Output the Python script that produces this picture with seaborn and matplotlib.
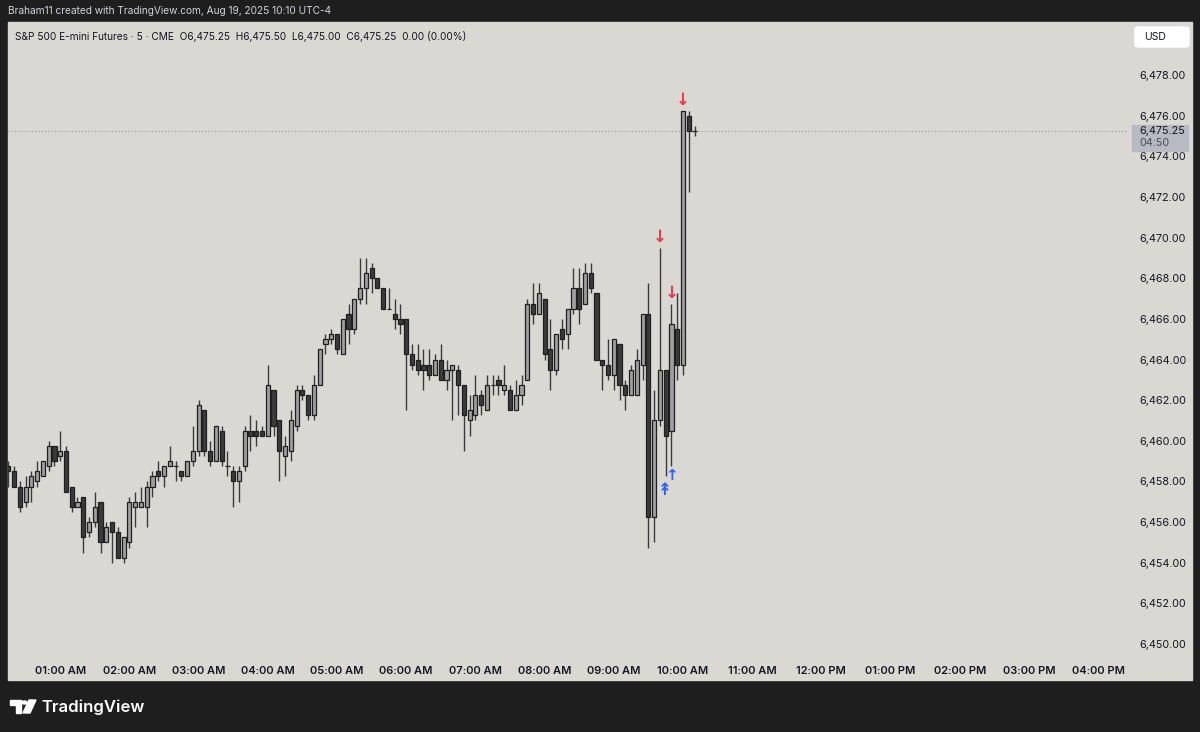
import numpy as np
import pandas as pd
import matplotlib
matplotlib.use("Agg")
import matplotlib.pyplot as plt
import seaborn as sns
from matplotlib.patches import Rectangle, FancyBboxPatch, Polygon, Circle

# ES 5-minute candles, Aug 19 2025, first candle 00:15, last 10:10
opens = [6458.75, 6458.5, 6457.75, 6457.0, 6457.75, 6458.0, 6458.25, 6458.75, 6459.75, 6459.25,
         6459.5, 6457.75, 6456.75, 6457.25, 6455.5, 6456.0, 6457.0, 6455.0, 6456.0, 6455.5,
         6454.25, 6455.0, 6456.75, 6456.75, 6456.75, 6457.75, 6458.5, 6458.25, 6458.75, 6458.75,
         6458.5, 6458.25, 6459.0, 6459.5, 6461.5, 6459.5, 6459.0, 6460.5, 6458.75, 6458.5,
         6458.0, 6458.75, 6460.5, 6460.5, 6460.5, 6460.25, 6462.5, 6461.0, 6459.25, 6459.5,
         6460.75, 6462.5, 6462.25, 6461.25, 6462.75, 6464.75, 6465.0, 6465.25, 6464.25, 6466.25,
         6465.5, 6467.0, 6467.5, 6468.5, 6468.0, 6467.5, 6466.5, 6466.25, 6466.0, 6466.0,
         6464.25, 6464.0, 6463.75, 6463.75, 6463.25, 6464.0, 6463.0, 6463.5, 6463.5, 6462.75,
         6461.0, 6461.25, 6462.25, 6461.5, 6462.75, 6463.0, 6462.5, 6462.5, 6461.5, 6462.25,
         6463.0, 6466.75, 6466.25, 6467.0, 6464.5, 6463.5, 6465.5, 6465.25, 6466.5, 6467.5,
         6466.75, 6468.25, 6467.25, 6464.0, 6463.75, 6463.25, 6464.75, 6462.75, 6462.25, 6462.25,
         6463.75, 6466.25, 6456.25, 6461.0, 6463.5, 6460.5, 6465.5, 6463.75, 6476.0, 6475.25]
highs = [6459.0, 6458.75, 6458.0, 6458.25, 6458.5, 6459.0, 6459.0, 6460.0, 6459.75, 6460.5,
         6459.75, 6457.75, 6457.25, 6457.25, 6456.25, 6457.5, 6457.0, 6456.0, 6456.0, 6455.75,
         6455.25, 6457.25, 6457.5, 6457.75, 6458.0, 6458.5, 6459.0, 6458.75, 6459.75, 6459.0,
         6458.5, 6459.0, 6460.75, 6462.0, 6461.5, 6460.0, 6460.75, 6460.75, 6459.5, 6458.75,
         6458.75, 6460.75, 6461.25, 6461.0, 6460.75, 6463.75, 6462.5, 6461.0, 6460.25, 6461.5,
         6462.75, 6462.75, 6462.25, 6463.25, 6464.5, 6465.25, 6465.5, 6465.25, 6466.0, 6466.75,
         6467.0, 6469.0, 6469.0, 6468.75, 6468.0, 6467.5, 6467.5, 6467.0, 6466.75, 6466.0,
         6464.75, 6464.75, 6464.5, 6464.5, 6464.25, 6464.75, 6464.0, 6463.75, 6463.75, 6462.75,
         6462.25, 6463.25, 6462.5, 6463.25, 6463.25, 6463.25, 6463.75, 6462.75, 6463.0, 6463.25,
         6467.0, 6467.75, 6467.75, 6467.0, 6466.0, 6465.25, 6466.0, 6466.5, 6468.5, 6468.5,
         6468.75, 6468.75, 6467.25, 6464.0, 6465.0, 6465.0, 6464.75, 6463.0, 6463.75, 6464.5,
         6466.25, 6467.75, 6462.5, 6469.5, 6463.5, 6466.75, 6467.25, 6476.25, 6476.25, 6475.5]
lows = [6457.75, 6457.75, 6456.5, 6456.75, 6457.0, 6457.75, 6458.25, 6458.5, 6458.75, 6459.0,
        6457.5, 6456.5, 6456.75, 6454.5, 6455.25, 6455.75, 6454.5, 6455.0, 6454.0, 6454.25,
        6454.0, 6454.75, 6455.75, 6456.75, 6455.75, 6457.25, 6458.0, 6457.75, 6458.75, 6458.0,
        6458.0, 6458.25, 6458.75, 6459.25, 6459.25, 6458.75, 6459.0, 6458.75, 6458.25, 6456.75,
        6457.0, 6458.5, 6459.5, 6459.75, 6460.25, 6460.25, 6460.25, 6458.0, 6458.25, 6459.0,
        6460.5, 6462.0, 6461.0, 6461.0, 6462.75, 6464.25, 6464.75, 6464.25, 6464.25, 6464.75,
        6465.25, 6466.75, 6466.75, 6467.25, 6467.5, 6466.5, 6466.5, 6465.5, 6465.25, 6461.5,
        6463.5, 6463.25, 6462.5, 6463.0, 6463.25, 6463.0, 6462.5, 6461.0, 6461.25, 6459.5,
        6460.25, 6461.0, 6461.25, 6461.5, 6462.25, 6462.25, 6462.25, 6461.5, 6461.5, 6461.75,
        6463.0, 6465.75, 6466.25, 6464.0, 6462.5, 6463.25, 6464.5, 6464.5, 6466.25, 6465.75,
        6466.75, 6467.25, 6464.0, 6462.5, 6463.0, 6462.5, 6462.0, 6461.5, 6462.25, 6462.25,
        6463.0, 6454.75, 6455.0, 6460.75, 6458.25, 6458.75, 6463.0, 6463.25, 6472.25, 6475.0]
closes = [6458.5, 6457.75, 6456.75, 6457.75, 6458.25, 6458.5, 6459.0, 6459.75, 6459.0, 6459.5,
          6457.5, 6456.75, 6457.0, 6455.25, 6456.0, 6456.75, 6455.0, 6455.75, 6455.5, 6454.25,
          6455.25, 6457.0, 6457.0, 6457.0, 6457.75, 6458.25, 6458.25, 6458.75, 6459.0, 6458.75,
          6458.25, 6459.0, 6459.5, 6461.75, 6459.5, 6459.0, 6460.75, 6459.0, 6458.75, 6458.0,
          6458.5, 6460.5, 6460.25, 6460.25, 6460.25, 6462.75, 6460.75, 6459.5, 6459.75, 6461.0,
          6462.5, 6462.25, 6461.25, 6462.75, 6464.5, 6465.0, 6465.25, 6464.5, 6466.0, 6465.5,
          6467.0, 6467.5, 6468.25, 6468.0, 6467.5, 6466.5, 6466.5, 6466.0, 6465.75, 6464.25,
          6463.75, 6463.5, 6463.5, 6463.25, 6464.0, 6463.0, 6463.5, 6463.75, 6462.75, 6461.25,
          6461.5, 6462.25, 6461.75, 6462.75, 6462.75, 6462.75, 6462.75, 6461.5, 6462.25, 6462.75,
          6466.75, 6466.25, 6467.25, 6464.25, 6463.5, 6465.25, 6465.0, 6466.5, 6467.5, 6466.5,
          6468.25, 6467.5, 6464.0, 6463.75, 6463.25, 6465.0, 6462.75, 6462.25, 6463.5, 6464.0,
          6466.25, 6456.25, 6461.0, 6463.5, 6460.25, 6465.75, 6463.75, 6476.25, 6475.25, 6475.25]

# signal markers (candle index)
sell_signals = [113, 115, 117]
buy_signals = [115]
strong_buy_signals = [114]

price_ticks = list(range(6450, 6479, 2))
hour_ticks = list(range(1, 17))
hour_labels = ["01:00 AM", "02:00 AM", "03:00 AM", "04:00 AM", "05:00 AM", "06:00 AM",
               "07:00 AM", "08:00 AM", "09:00 AM", "10:00 AM", "11:00 AM", "12:00 PM",
               "01:00 PM", "02:00 PM", "03:00 PM", "04:00 PM"]
last_price = 6475.25
countdown = "04:50"

DARK = "#1e1e1e"
PANEL = "#dad8d3"
UP = "#a0a0a0"
DOWN = "#3b3b3b"
EDGE = "#1f1f1f"
WICK = "#3a3a3a"
RED = "#f23645"
BLUE = "#2962ff"
TXT = "#131722"

sns.set_theme(style="white")
plt.rcParams["font.family"] = ["Inter", "DejaVu Sans"]

df = pd.DataFrame({"open": opens, "high": highs, "low": lows, "close": closes})
stamps = pd.date_range("2025-08-19 00:15", periods=len(df), freq="5min")
df["t"] = (stamps - pd.Timestamp("2025-08-19")).total_seconds() / 60
df["up"] = df["close"] >= df["open"]

W, H = 1200, 732
fig = plt.figure(figsize=(12, 7.32), dpi=100, facecolor=DARK)


def fx(px):
    return px / W


def fy(py):
    return 1 - py / H


# light chart panel (behind the axes)
fig.patches.append(Rectangle((fx(8), fy(680)), fx(1192) - fx(8), fy(22) - fy(680),
                             transform=fig.transFigure, color=PANEL, zorder=-5))

ax = fig.add_axes([fx(8), fy(655), fx(1128) - fx(8), fy(22) - fy(655)])
ax.set_facecolor(PANEL)
for s in ax.spines.values():
    s.set_visible(False)

ax.vlines(df["t"], df["low"], df["high"], color=WICK, lw=1.0, zorder=2)
ax.bar(df["t"], (df["close"] - df["open"]).abs(), bottom=df[["open", "close"]].min(axis=1),
       width=3.6, color=np.where(df["up"], UP, DOWN), edgecolor=EDGE, linewidth=0.9, zorder=3)

ax.axhline(last_price, color="#8f9299", lw=0.8, ls=(0, (1, 2)), zorder=1)

for i in sell_signals:
    ax.annotate("↓", xy=(df["t"][i], df["high"][i]), xytext=(0, 1), textcoords="offset points",
                ha="center", va="bottom", color=RED, fontsize=12, fontweight="bold",
                family="DejaVu Sans")
for i in buy_signals:
    ax.annotate("↑", xy=(df["t"][i], df["low"][i]), xytext=(0, -1), textcoords="offset points",
                ha="center", va="top", color=BLUE, fontsize=11, fontweight="bold",
                family="DejaVu Sans")
for i in strong_buy_signals:
    ax.annotate("↟", xy=(df["t"][i], df["low"][i]), xytext=(-1, -3.5), textcoords="offset points",
                ha="center", va="top", color=BLUE, fontsize=12, fontweight="bold",
                family="DejaVu Sans")

ax.set_xlim(14.74, 985.84)
ax.set_ylim(6449.46, 6480.61)

ax.yaxis.tick_right()
ax.set_yticks(price_ticks)
ax.set_yticklabels([f"{v:,.2f}" for v in price_ticks], fontsize=7.8, color=TXT)
ax.set_xticks([h * 60 for h in hour_ticks])
ax.set_xticklabels(hour_labels, fontsize=8, color=TXT, fontweight="semibold")
ax.tick_params(axis="y", length=0, pad=8)
ax.tick_params(axis="x", length=0, pad=8)
ax.grid(False)

# top credit line and legend
fig.text(fx(8), fy(11), "Braham11 created with TradingView.com, Aug 19, 2025 10:10 UTC-4",
         color="#d1d4dc", fontsize=7.3, va="center", ha="left")
fig.text(fx(15), fy(36),
         "S&P 500 E-mini Futures · 5 · CME  O6,475.25  H6,475.50  L6,475.00  C6,475.25  0.00 (0.00%)",
         color=TXT, fontsize=7.3, va="center", ha="left")

# USD button
fig.patches.append(FancyBboxPatch((fx(1135), fy(47)), fx(54), 20 / H,
                                  boxstyle="round,pad=0,rounding_size=0.003",
                                  transform=fig.transFigure, color="white", zorder=2))
fig.text(fx(1144), fy(37), "USD", color=TXT, fontsize=7.5, va="center", ha="left")

# last price label
fig.patches.append(Rectangle((fx(1132), fy(151)), fx(56), 26 / H,
                             transform=fig.transFigure, color="#b7bac2", zorder=2))
fig.text(fx(1139), fy(131), f"{last_price:,.2f}", color=TXT, fontsize=7.8, va="center", ha="left")
fig.text(fx(1139), fy(143), countdown, color="#4a4e5a", fontsize=7.8, va="center", ha="left")

# TradingView logo
fig.patches.append(Polygon([(fx(10), fy(700)), (fx(21), fy(700)), (fx(21), fy(713)), (fx(16), fy(713)),
                            (fx(16), fy(705)), (fx(10), fy(705))], closed=True,
                           transform=fig.transFigure, color="white"))
fig.patches.append(Circle((fx(24.5), fy(702.5)), 2.5 / W, transform=fig.transFigure, color="white"))
fig.patches.append(Polygon([(fx(29), fy(700)), (fx(36), fy(700)), (fx(30), fy(713)), (fx(23), fy(713))],
                           closed=True, transform=fig.transFigure, color="white"))
fig.text(fx(41), fy(707), "TradingView", color="white", fontsize=12, fontweight="semibold",
         va="center", ha="left")

fig.savefig("out.png", dpi=100, facecolor=DARK)
